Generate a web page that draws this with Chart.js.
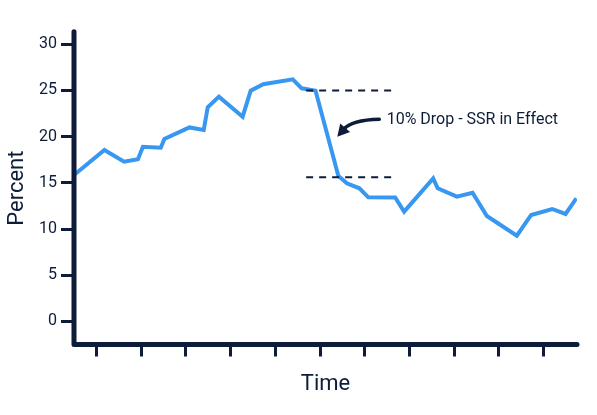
<!DOCTYPE html>
<html><head><meta charset="utf-8">
<script src="https://cdn.jsdelivr.net/npm/chart.js@4/dist/chart.umd.min.js"></script>
<style>html,body{margin:0;padding:0;background:#fff}</style>
</head><body>
<canvas id="c" width="597" height="415"></canvas>
<script>
// ---- data ----
const timePoints = [0, 6.8, 11.2, 14.3, 15.4, 19.4, 20.2, 25.8, 29.0, 29.9, 32.4, 37.7, 39.5, 42.3, 48.9, 50.9, 54.0, 59.1, 61.0, 63.8, 65.8, 71.8, 73.8, 80.3, 81.3, 85.6, 89.1, 92.3, 99.0, 102.2, 106.9, 109.9, 112.3];
const percentValues = [15.85, 18.56, 17.29, 17.55, 18.91, 18.8, 19.75, 21.0, 20.72, 23.18, 24.33, 22.16, 24.98, 25.67, 26.2, 25.23, 24.98, 15.74, 14.95, 14.41, 13.43, 13.41, 11.88, 15.49, 14.41, 13.5, 13.93, 11.41, 9.28, 11.52, 12.17, 11.63, 13.33];
const yTickValues = [0, 5, 10, 15, 20, 25, 30];
const xTickValues = [5, 15, 25, 35, 45, 55, 65, 75, 85, 95, 105];
const dropLevels = [25, 15.6];
const dropSpan = [51.9, 71.9];
const annotationText = '10% Drop - SSR in Effect';
const annotationAnchor = [69.9, 21.75];
const arrowTail = [68.25, 21.88];
const arrowCtrl = [62.1, 21.8];
const arrowTip = [58.86, 19.99];

const NAVY = '#0d1c38';
const BLUE = '#3897f0';
const FONT = 'Roboto';

const lineData = timePoints.map((x, i) => ({x, y: percentValues[i]}));
const dashSets = dropLevels.map(lv => ({
  data: [{x: dropSpan[0], y: lv}, {x: dropSpan[1], y: lv}],
  borderColor: NAVY, borderWidth: 2, borderDash: [7, 6], pointRadius: 0, order: 0
}));

const axisPlugin = {
  id: 'axesAndNote',
  afterDatasetsDraw(chart) {
    const {ctx, chartArea: a, scales: {x, y}} = chart;
    ctx.save();
    ctx.strokeStyle = NAVY; ctx.lineWidth = 5; ctx.lineCap = 'round'; ctx.lineJoin = 'round';
    ctx.beginPath(); ctx.moveTo(a.left, a.top); ctx.lineTo(a.left, a.bottom); ctx.lineTo(a.right, a.bottom); ctx.stroke();
    // arrow
    const tx = x.getPixelForValue(arrowTail[0]), ty = y.getPixelForValue(arrowTail[1]);
    const cx = x.getPixelForValue(arrowCtrl[0]), cy = y.getPixelForValue(arrowCtrl[1]);
    const px = x.getPixelForValue(arrowTip[0]), py = y.getPixelForValue(arrowTip[1]);
    const ang = Math.atan2(py - cy, px - cx);
    const hl = 12, hw = 6.5;
    const bx = px - hl * Math.cos(ang), by = py - hl * Math.sin(ang);
    ctx.lineWidth = 3.5; ctx.lineCap = 'round';
    ctx.beginPath(); ctx.moveTo(tx, ty); ctx.quadraticCurveTo(cx, cy, bx + 2*Math.cos(ang), by + 2*Math.sin(ang)); ctx.stroke();
    ctx.fillStyle = NAVY;
    ctx.beginPath();
    ctx.moveTo(px, py);
    ctx.lineTo(bx + hw * Math.sin(ang), by - hw * Math.cos(ang));
    ctx.lineTo(bx - hw * Math.sin(ang), by + hw * Math.cos(ang));
    ctx.closePath(); ctx.fill();
    // text
    ctx.font = '16px ' + FONT; ctx.textAlign = 'left'; ctx.textBaseline = 'middle';
    ctx.fillText(annotationText, x.getPixelForValue(annotationAnchor[0]), y.getPixelForValue(annotationAnchor[1]));
    ctx.restore();
  }
};

new Chart(document.getElementById('c'), {
  type: 'line',
  data: {
    datasets: [
      {data: lineData, borderColor: BLUE, borderWidth: 4, pointRadius: 0, tension: 0, order: 1},
      ...dashSets
    ]
  },
  options: {
    responsive: false, animation: false,
    layout: {padding: {top: 31.8, right: 20, left: 0, bottom: 0}},
    plugins: {legend: {display: false}, tooltip: {enabled: false}},
    scales: {
      x: {
        type: 'linear', min: 0, max: 112.45,
        afterBuildTicks: s => { s.ticks = xTickValues.map(v => ({value: v})); },
        afterFit: s => { s.height = 70.5; },
        ticks: {display: false},
        grid: {display: true, drawOnChartArea: false, drawTicks: true, tickLength: 12, lineWidth: 3, color: NAVY},
        border: {display: false},
        title: {display: true, text: 'Time', color: NAVY, font: {family: FONT, size: 22}, padding: {top: 0, bottom: 17.8}}
      },
      y: {
        min: -2.5, max: 31.35,
        afterBuildTicks: s => { s.ticks = yTickValues.map(v => ({value: v})); },
        afterFit: s => { s.width = 74; },
        ticks: {color: NAVY, font: {family: FONT, size: 16}, padding: 4, autoSkip: false},
        grid: {display: true, drawOnChartArea: false, drawTicks: true, tickLength: 13, lineWidth: 3, color: NAVY},
        border: {display: false},
        title: {display: true, text: 'Percent', color: NAVY, font: {family: FONT, size: 22}, padding: {top: 4.5, bottom: 0}}
      }
    }
  },
  plugins: [axisPlugin]
});
</script>
</body></html>
